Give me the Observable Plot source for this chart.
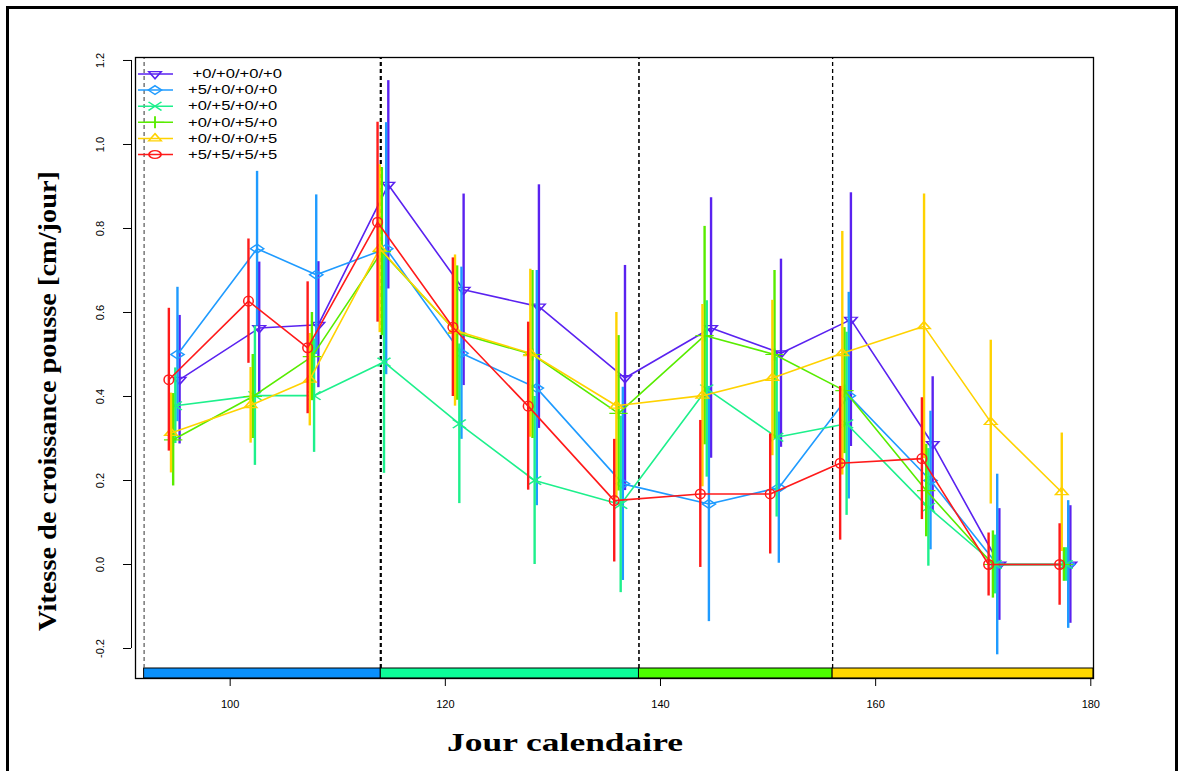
<!DOCTYPE html>
<html>
<head>
<meta charset="utf-8">
<script src="https://cdn.jsdelivr.net/npm/d3@7"></script>
<script src="https://cdn.jsdelivr.net/npm/@observablehq/plot@0.6"></script>
<style>
  body { margin: 0; background: #fff; }
  #page { position: relative; width: 1178px; height: 771px; overflow: hidden; background: #fff; }
  #border { position: absolute; left: 6px; top: 6px; width: 1172px; height: 800px; border: 3px solid #000; box-sizing: border-box; }
  #page svg { position: absolute; left: 0; top: 0; }
</style>
</head>
<body>
<div id="page"><div id="border"></div></div>
<script>
// Sampling dates (calendar day, centre of each group of bars)
const days = [94.8, 102.2, 107.7, 114.2, 121.2, 128.2, 136.2, 144.2, 150.7, 157.2, 164.8, 171.0, 177.6];

// Treatments (warming +°C per phase)
const seriesNames = [" +0/+0/+0/+0", "+5/+0/+0/+0", "+0/+5/+0/+0", "+0/+0/+5/+0", "+0/+0/+0/+5", "+5/+5/+5/+5"];

// Mean shoot growth rate (cm/day) per treatment
const mean0000 = [0.44, 0.563, 0.571, 0.904, 0.654, 0.614, 0.444, 0.563, 0.503, 0.583, 0.287, 0, 0];
const mean5000 = [0.50, 0.752, 0.690, 0.752, 0.503, 0.420, 0.192, 0.144, 0.183, 0.402, 0.200, 0, 0];
const mean0500 = [0.378, 0.402, 0.402, 0.482, 0.335, 0.200, 0.143, 0.418, 0.303, 0.335, 0.136, 0, 0];
const mean0050 = [0.297, 0.400, 0.495, 0.745, 0.551, 0.500, 0.360, 0.545, 0.500, 0.414, 0.176, 0, 0];
const mean0005 = [0.313, 0.379, 0.440, 0.752, 0.557, 0.503, 0.378, 0.402, 0.444, 0.503, 0.567, 0.339, 0.172];
const mean5555 = [0.44, 0.627, 0.516, 0.815, 0.565, 0.377, 0.152, 0.168, 0.168, 0.241, 0.252, 0, 0];

// Standard deviations
const sd0000 = [0.153, 0.157, 0.150, 0.248, 0.228, 0.290, 0.268, 0.310, 0.224, 0.302, 0.160, 0.133, 0.140];
const sd5000 = [0.160, 0.184, 0.190, 0.300, 0.205, 0.280, 0.230, 0.280, 0.180, 0.246, 0.165, 0.215, 0.152];
const sd0500 = [0.090, 0.166, 0.135, 0.265, 0.190, 0.200, 0.210, 0.210, 0.190, 0.218, 0.140, 0.070, 0.040];
const sd0050 = [0.110, 0.100, 0.105, 0.200, 0.160, 0.200, 0.185, 0.260, 0.200, 0.150, 0.110, 0.080, 0.040];
const sd0005 = [0.095, 0.090, 0.110, 0.200, 0.180, 0.200, 0.222, 0.217, 0.185, 0.290, 0.315, 0.195, 0.141];
const sd5555 = [0.170, 0.148, 0.157, 0.238, 0.165, 0.200, 0.146, 0.175, 0.143, 0.183, 0.145, 0.075, 0.097];

// Warming phases (start / end day) and their colours
const phaseStart = [92, 114, 138, 156];
const phaseEnd = [114, 138, 156, 180.25];
const phaseColors = ["#0a90fb", "#0cfd98", "#4dfd00", "#ffd700"];

// Axis ticks
const xTicks = [100, 120, 140, 160, 180];
const yTicks = [-0.2, 0, 0.2, 0.4, 0.6, 0.8, 1.0, 1.2];

const means = [mean0000, mean5000, mean0500, mean0050, mean0005, mean5555];
const sds = [sd0000, sd5000, sd0500, sd0050, sd0005, sd5555];
const colors = ["#5a22f0", "#1f9bff", "#1df08c", "#58ec00", "#ffd200", "#ff1a1a"];
const symbols = ["triangle2", "diamond2", "times", "plus", "triangle2", "circle"];
const rotations = [180, 0, 0, 0, 0, 0];
// small horizontal dodge so the error bars of each date don't overlap
const dodge = [0.5, 0.3, 0.1, -0.1, -0.3, -0.5];

const W = 1178, H = 771;
const xDomain = [91.2, 180.25];
const yDomain = [-0.2714, 1.2071];
const bandTop = -0.2476;
const markerR = 4.8;
const markerScale = "scale(1.25,0.82)";

const rows = seriesNames.map((name, i) =>
  days.map((d, j) => ({series: name, day: d + dodge[i], mean: means[i][j], sd: sds[i][j]}))
);

const phases = phaseStart.map((s, i) => ({start: s, end: phaseEnd[i], color: phaseColors[i]}));
const dashStyles = [
  {stroke: "#555", width: 1.2},
  {stroke: "#000", width: 2.2},
  {stroke: "#000", width: 1.6},
  {stroke: "#000", width: 1.3}
];

const marks = [];
// phase colour band along the bottom
marks.push(Plot.rect(phases, {x1: "start", x2: "end", y1: yDomain[0], y2: bandTop, fill: d => d.color, stroke: "#000", strokeWidth: 1}));
// phase boundaries
phaseStart.forEach((s, i) => {
  marks.push(Plot.ruleX([s], {y1: bandTop, y2: yDomain[1], stroke: dashStyles[i].stroke, strokeWidth: dashStyles[i].width, strokeDasharray: "4,3"}));
});
// series: error bars, lines, symbols (drawn from first to last treatment)
rows.forEach((r, i) => {
  marks.push(Plot.ruleX(r, {x: "day", y1: d => d.mean - d.sd, y2: d => d.mean + d.sd, stroke: colors[i], strokeWidth: 2.4}));
  marks.push(Plot.line(r, {x: "day", y: "mean", stroke: colors[i], strokeWidth: 1.6}));
  marks.push(Plot.dot(r, {x: "day", y: "mean", symbol: symbols[i], r: markerR, stroke: colors[i], strokeWidth: 1.5, fill: "none", rotate: rotations[i]}));
});
// axes
marks.push(Plot.axisX(xTicks, {tickSize: 8, tickPadding: 14, tickFormat: d => String(d), label: null, fontSize: 11}));
marks.push(Plot.axisY(yTicks, {tickSize: 8, dx: -4, tickPadding: 20, tickRotate: -90, tickFormat: d => d.toFixed(1), label: null, fontSize: 11}));
marks.push(Plot.ruleX([xDomain[0]], {y1: -0.2, y2: 1.2, dx: -4, stroke: "#000", strokeWidth: 1}));
marks.push(Plot.frame({stroke: "#000", strokeWidth: 1.3}));

const chart = Plot.plot({
  width: W, height: H,
  marginLeft: 135, marginRight: 85, marginTop: 57, marginBottom: 93,
  x: {domain: xDomain},
  y: {domain: yDomain},
  style: {fontFamily: "'Liberation Sans', Arial, sans-serif", fontSize: "11px", background: "transparent", color: "#000", overflow: "visible"},
  marks
});
document.getElementById("page").appendChild(chart);

const svg = d3.select(chart);

// R-style markers come out a little wider than tall
svg.selectAll('g[aria-label="dot"] path').attr("transform", function () {
  return this.getAttribute("transform") + " " + markerScale;
});

// axis titles
svg.append("text")
  .attr("x", 565).attr("y", 751)
  .attr("text-anchor", "middle")
  .attr("font-family", "'Liberation Serif', 'Times New Roman', serif")
  .attr("font-weight", "bold").attr("font-size", 25)
  .attr("textLength", 236).attr("lengthAdjust", "spacingAndGlyphs")
  .text("Jour calendaire");
svg.append("text")
  .attr("transform", "translate(56,401) rotate(-90)")
  .attr("text-anchor", "middle")
  .attr("font-family", "'Liberation Serif', 'Times New Roman', serif")
  .attr("font-weight", "bold").attr("font-size", 25)
  .attr("textLength", 460).attr("lengthAdjust", "spacingAndGlyphs")
  .text("Vitesse de croissance pousse [cm/jour]");

// legend
const symbolTypes = {triangle2: d3.symbolTriangle2, diamond2: d3.symbolDiamond2, times: d3.symbolTimes, plus: d3.symbolPlus, circle: d3.symbolCircle};
const legend = svg.append("g")
  .attr("font-family", "'Liberation Sans', Arial, sans-serif")
  .attr("font-size", 12).attr("text-anchor", "start");
seriesNames.forEach((name, i) => {
  const g = legend.append("g").attr("transform", `translate(0,${74 + i * 16.1})`);
  g.append("line").attr("x1", 138).attr("x2", 173).attr("stroke", colors[i]).attr("stroke-width", 1.5);
  g.append("path")
    .attr("d", d3.symbol(symbolTypes[symbols[i]], Math.PI * markerR * markerR)())
    .attr("transform", `translate(155,0) rotate(${rotations[i]}) ${markerScale}`)
    .attr("fill", "none").attr("stroke", colors[i]).attr("stroke-width", 1.5);
  g.append("text")
    .attr("transform", "translate(188,0) scale(1.38,1)")
    .attr("dy", "0.35em")
    .style("white-space", "pre")
    .text(name);
});
</script>
</body>
</html>
